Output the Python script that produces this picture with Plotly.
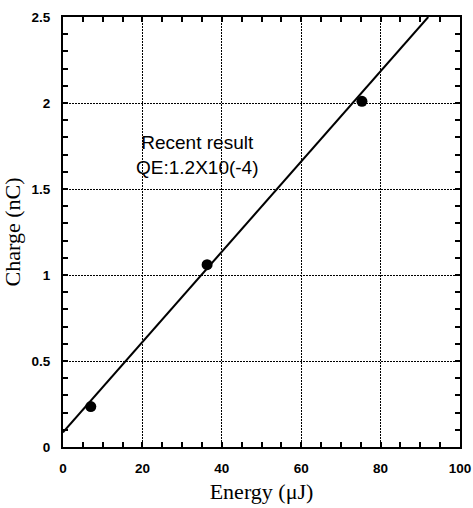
import plotly.graph_objects as go

energy = [7.0, 36.3, 75.3]
charge = [0.235, 1.06, 2.01]
fit_energy = [0, 92]
fit_charge = [0.085, 2.5]
x_ticks = [0, 20, 40, 60, 80, 100]
y_ticks = [0, 0.5, 1, 1.5, 2, 2.5]
y_ticklabels = ["0", "0.5", "1", "1.5", "2", "2.5"]

fig = go.Figure()
fig.add_trace(go.Scatter(x=fit_energy, y=fit_charge, mode="lines",
                         line=dict(color="black", width=2), showlegend=False))
fig.add_trace(go.Scatter(x=energy, y=charge, mode="markers",
                         marker=dict(color="black", size=11), showlegend=False))

fig.add_annotation(x=34, y=1.70, text="Recent result<br>QE:1.2X10(-4)", showarrow=False,
                   font=dict(family="Liberation Sans, Arial", size=19, color="black"))

tick_font = dict(family="Liberation Sans, Arial", size=13.5, color="black", weight="bold")
axis_common = dict(showline=True, linecolor="black", linewidth=2, mirror="allticks",
                   ticks="inside", ticklen=5, tickwidth=1.5, tickcolor="black",
                   showgrid=True, gridcolor="black", griddash="2px,1px", gridwidth=1.3,
                   zeroline=False, automargin=False, ticklabelstandoff=8,
                   tickfont=tick_font)

fig.update_xaxes(range=[0, 100], tickvals=x_ticks, ticktext=[str(v) for v in x_ticks],
                 minor=dict(dtick=5, ticks="inside", ticklen=5, tickcolor="black", showgrid=False),
                 title=dict(text="Energy (μJ)", font=dict(family="Liberation Serif, Times New Roman", size=22, color="black"),
                            standoff=8),
                 **axis_common)
fig.update_yaxes(range=[0, 2.5], tickvals=y_ticks, ticktext=y_ticklabels,
                 minor=dict(dtick=0.1, ticks="inside", ticklen=5, tickcolor="black", showgrid=False),
                 title=dict(text="Charge (nC)", font=dict(family="Liberation Serif, Times New Roman", size=22, color="black"),
                            standoff=5),
                 **axis_common)

fig.update_layout(width=473, height=508, margin=dict(l=63, r=13, t=17, b=61),
                  plot_bgcolor="white", paper_bgcolor="white")
fig.write_html("out.html", config={"displayModeBar": False},
               post_script="document.body.style.margin='0';document.body.style.overflow='hidden';")
